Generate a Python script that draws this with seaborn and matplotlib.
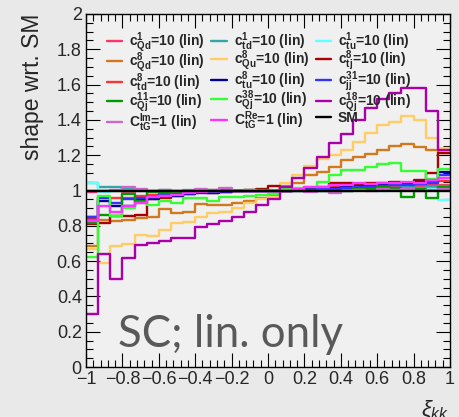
import numpy as np
import pandas as pd
import matplotlib
matplotlib.use("Agg")
import matplotlib.pyplot as plt
import seaborn as sns
from matplotlib.ticker import MultipleLocator, FuncFormatter

sns.set_theme(style="ticks")
plt.rcParams["font.family"] = ["Liberation Sans", "DejaVu Sans"]
plt.rcParams["mathtext.fontset"] = "custom"
plt.rcParams["mathtext.rm"] = "Liberation Sans"
plt.rcParams["mathtext.it"] = "Liberation Sans:italic"
plt.rcParams["mathtext.bf"] = "Liberation Sans:bold"

# ---------------- data ----------------
x_min, x_max, n_bins = -1.0, 1.0, 30

series_names = ["cQd1", "ctd1", "ctu1", "cQd8", "cQu8", "ctj8", "ctd8", "ctu8",
                "cjj31", "cQj11", "cQj38", "cQj18", "ctGIm", "ctGRe", "SM"]

legend_labels = [
    r"$\mathbf{c^{1}_{Qd}}$=10 (lin)", r"$\mathbf{c^{1}_{td}}$=10 (lin)", r"$\mathbf{c^{1}_{tu}}$=10 (lin)",
    r"$\mathbf{c^{8}_{Qd}}$=10 (lin)", r"$\mathbf{c^{8}_{Qu}}$=10 (lin)", r"$\mathbf{c^{8}_{tj}}$=10 (lin)",
    r"$\mathbf{c^{8}_{td}}$=10 (lin)", r"$\mathbf{c^{8}_{tu}}$=10 (lin)", r"$\mathbf{c^{31}_{jj}}$=10 (lin)",
    r"$\mathbf{c^{11}_{Qj}}$=10 (lin)", r"$\mathbf{c^{38}_{Qj}}$=10 (lin)", r"$\mathbf{c^{18}_{Qj}}$=10 (lin)",
    r"$\mathbf{C^{Im}_{tG}}$=1 (lin)", r"$\mathbf{C^{Re}_{tG}}$=1 (lin)", "SM",
]

series_colors = ["#FF3366", "#33A6A6", "#66FFFF", "#D2781E", "#FFCC66", "#AA0000",
                 "#FF3333", "#000099", "#3333FF", "#009900", "#33FF33", "#AA00AA",
                 "#CC66CC", "#FF33FF", "#000000"]

cQd1 = [0.99, 0.995, 1.0, 0.99, 0.995, 1.0, 0.995, 1.0, 1.0, 1.0, 1.005, 1.0, 1.0, 1.0, 1.0,
        1.0, 1.005, 1.01, 1.01, 1.015, 1.01, 1.02, 1.015, 1.02, 1.02, 1.025, 1.02, 1.025, 1.03, 1.03]
ctd1 = [1.045, 1.02, 1.02, 1.01, 1.005, 1.0, 1.005, 1.0, 1.005, 1.0, 1.005, 1.0, 1.0, 1.0, 1.0,
        1.0, 1.0, 1.005, 1.005, 1.01, 1.005, 1.01, 1.01, 1.015, 1.01, 1.015, 1.02, 1.015, 1.02, 1.025]
ctu1 = [1.04, 0.99, 1.0, 1.0, 0.995, 1.0, 1.0, 0.995, 1.0, 1.0, 1.0, 1.0, 1.0, 1.0, 1.0,
        1.0, 1.0, 1.0, 1.005, 1.0, 1.005, 1.0, 1.005, 1.01, 1.0, 1.01, 1.005, 1.01, 1.01, 0.945]
cQd8 = [0.686, 0.833, 0.826, 0.835, 0.842, 0.85, 0.893, 0.874, 0.88, 0.925, 0.92, 0.918, 0.93, 0.943, 0.955,
        0.975, 1.025, 1.045, 1.09, 1.105, 1.135, 1.17, 1.19, 1.207, 1.23, 1.252, 1.263, 1.245, 1.23, 1.21]
cQu8 = [0.67, 0.59, 0.686, 0.695, 0.75, 0.744, 0.776, 0.814, 0.824, 0.85, 0.87, 0.88, 0.90, 0.928, 0.95,
        0.965, 1.04, 1.09, 1.14, 1.18, 1.20, 1.23, 1.276, 1.324, 1.37, 1.39, 1.42, 1.40, 1.296, 1.24]
ctj8 = [0.81, 0.815, 0.855, 0.855, 0.86, 0.95, 0.955, 0.97, 0.98, 0.99, 0.985, 0.99, 1.0, 1.0, 1.01,
        1.025, 1.0, 1.01, 1.015, 1.02, 1.04, 1.04, 1.035, 1.045, 1.04, 1.05, 1.045, 1.06, 1.10, 1.215]
ctd8 = [0.837, 0.965, 0.96, 0.96, 0.97, 0.975, 0.98, 0.985, 0.99, 0.99, 0.995, 1.0, 1.0, 1.005, 1.0,
        1.0, 1.0, 1.005, 1.01, 1.015, 1.02, 1.02, 1.025, 1.03, 1.03, 1.035, 1.04, 1.045, 1.05, 1.055]
ctu8 = [0.848, 0.94, 0.91, 0.91, 0.945, 0.95, 0.97, 0.97, 0.98, 0.985, 0.985, 0.99, 0.995, 1.0, 1.0,
        1.0, 1.0, 1.005, 1.01, 1.01, 1.015, 1.02, 1.025, 1.025, 1.03, 1.035, 1.04, 1.05, 1.06, 1.105]
cjj31 = [0.85, 0.955, 0.93, 0.95, 0.96, 0.965, 0.975, 0.98, 0.985, 0.99, 0.99, 0.995, 1.0, 1.0, 1.0,
         1.0, 1.0, 1.005, 1.005, 1.01, 1.01, 1.015, 1.02, 1.02, 1.025, 1.03, 1.03, 1.035, 1.04, 1.09]
cQj11 = [0.814, 0.86, 0.855, 0.98, 0.94, 0.99, 0.985, 0.99, 0.995, 1.0, 1.0, 1.005, 1.0, 1.005, 1.005,
         1.0, 1.0, 1.0, 0.995, 1.0, 0.995, 1.0, 1.01, 1.01, 1.02, 1.015, 0.965, 1.01, 0.955, 1.02]
cQj38 = [0.625, 0.97, 0.855, 0.90, 0.927, 0.92, 0.94, 0.93, 0.96, 0.955, 0.94, 0.965, 0.965, 0.97, 0.975,
         0.978, 1.01, 1.015, 1.02, 1.05, 1.09, 1.116, 1.116, 1.135, 1.15, 1.158, 1.11, 1.11, 1.065, 1.12]
cQj18 = [0.30, 0.64, 0.50, 0.62, 0.69, 0.70, 0.715, 0.73, 0.73, 0.795, 0.81, 0.83, 0.85, 0.88, 0.92,
         0.95, 1.02, 1.07, 1.125, 1.19, 1.27, 1.32, 1.40, 1.47, 1.52, 1.555, 1.58, 1.58, 1.45, 1.23]
ctGIm = [1.0, 1.0, 1.005, 1.02, 1.01, 1.0, 1.005, 1.0, 1.0, 1.01, 1.0, 1.015, 1.0, 1.005, 1.0,
         1.0, 1.0, 0.995, 0.99, 0.995, 0.985, 1.0, 1.005, 1.0, 1.01, 1.005, 1.01, 1.0, 1.005, 1.01]
ctGRe = [0.829, 0.912, 0.88, 0.915, 0.93, 0.965, 0.97, 0.975, 0.985, 0.99, 0.995, 1.0, 0.995, 1.0, 1.0,
         1.0, 1.0, 1.01, 1.02, 1.02, 1.03, 1.03, 1.04, 1.035, 1.04, 1.045, 1.05, 1.04, 1.06, 1.07]
SM = [1.0] * 30

series_values = [cQd1, ctd1, ctu1, cQd8, cQu8, ctj8, ctd8, ctu8, cjj31, cQj11, cQj38, cQj18, ctGIm, ctGRe, SM]

x_tick_step, x_minor_step = 0.2, 0.04
y_min, y_max, y_tick_step, y_minor_step = 0.0, 2.0, 0.2, 0.05

# ---------------- figure ----------------
W, H = 459, 417
fig = plt.figure(figsize=(W / 100, H / 100), dpi=100, facecolor="#E9E9E9")
ax = fig.add_axes([86 / W, 1 - 367 / H, (450 - 86) / W, (367 - 14) / H])
ax.set_facecolor("#F0F0F0")

edges = np.linspace(x_min, x_max, n_bins + 1)
centers = 0.5 * (edges[:-1] + edges[1:])

rows = []
for name, vals in zip(series_names, series_values):
    for c, v in zip(centers, vals):
        rows.append({"series": name, "x": c, "w": v})
df = pd.DataFrame(rows)

for name, lab, col in zip(series_names, legend_labels, series_colors):
    sub = df[df["series"] == name]
    sns.histplot(data=sub, x="x", weights="w", bins=n_bins, binrange=(x_min, x_max),
                 element="step", fill=False, color=col, linewidth=1.7, ax=ax, label=lab)

ax.set_xlim(x_min, x_max)
ax.set_ylim(y_min, y_max)
ax.set_xlabel("")


def tick_fmt(v, p):
    v = round(v, 6)
    if abs(v) < 1e-9:
        return "0"
    return ("%g" % v).replace("-", "\u2212")


fmt = FuncFormatter(tick_fmt)
ax.xaxis.set_major_locator(MultipleLocator(x_tick_step))
ax.xaxis.set_minor_locator(MultipleLocator(x_minor_step))
ax.yaxis.set_major_locator(MultipleLocator(y_tick_step))
ax.yaxis.set_minor_locator(MultipleLocator(y_minor_step))
ax.xaxis.set_major_formatter(fmt)
ax.yaxis.set_major_formatter(fmt)
ax.tick_params(which="both", direction="in", top=True, right=True, color="black", width=0.8)
ax.tick_params(which="major", length=10, labelsize=13)
ax.tick_params(axis="x", which="major", pad=3)
ax.tick_params(axis="y", which="major", pad=3)
ax.tick_params(which="minor", length=5)
for s in ax.spines.values():
    s.set_color("black")
    s.set_linewidth(1.0)

ax.set_ylabel("shape wrt. SM", fontsize=16.5, loc="top", labelpad=9)

# legend (row-major order over 3 columns)
handles, labs = ax.get_legend_handles_labels()
order = [i for c in range(3) for i in range(c, len(handles), 3)]
ax.legend([handles[i] for i in order], [labs[i] for i in order], ncol=3, frameon=False,
          loc="upper left", bbox_to_anchor=(107 / W, 1 - 30 / H), bbox_transform=fig.transFigure,
          prop={"weight": "bold", "size": 10}, handlelength=1.1, handletextpad=0.5,
          columnspacing=0.45, labelspacing=-0.27, borderaxespad=0, borderpad=0)

fig.text(118 / W, 1 - 347 / H, "SC; lin. only", fontsize=31.5, family="Lato", color="#595959",
         ha="left", va="baseline")
fig.text(421 / W, 1 - 399 / H, r"$\xi_{kk}$", fontsize=16, ha="left", va="top")

fig.savefig("out.png", dpi=100, facecolor=fig.get_facecolor())
